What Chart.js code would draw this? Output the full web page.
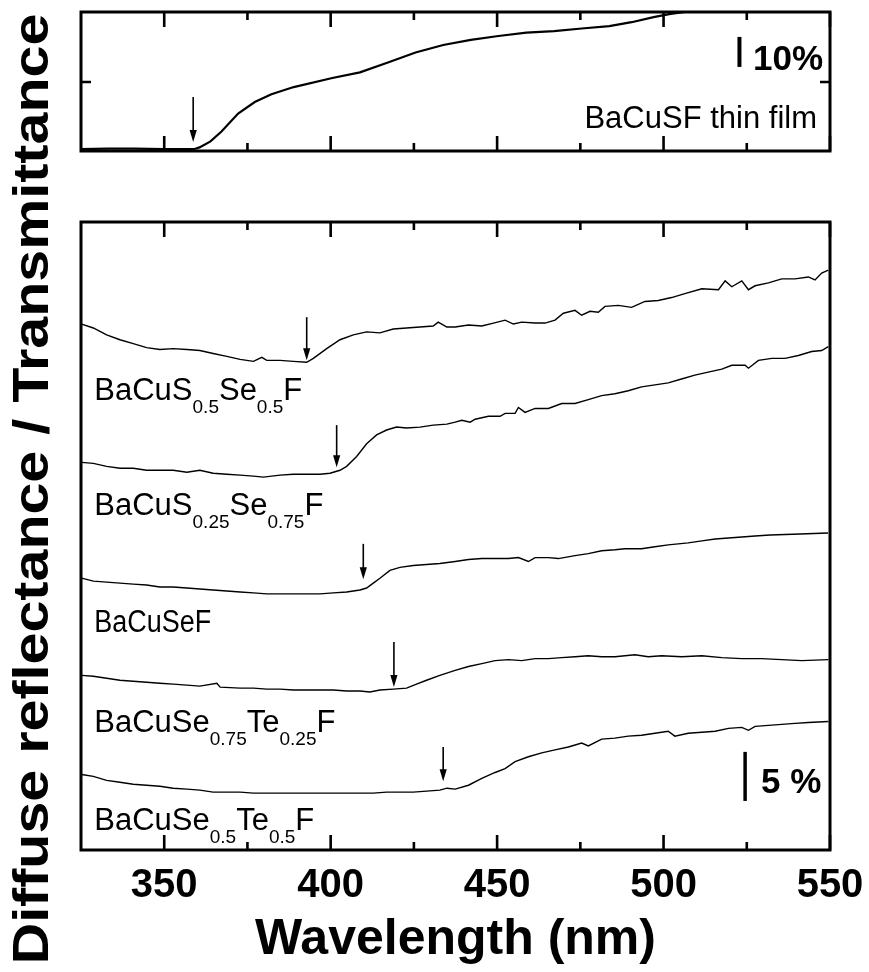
<!DOCTYPE html>
<html>
<head>
<meta charset="utf-8">
<title>BaCuQF absorption edges</title>
<script src="https://cdn.jsdelivr.net/npm/chart.js@4.4.1/dist/chart.umd.min.js"></script>
<style>
  html, body { margin: 0; padding: 0; background: #fff; }
  #wrap { position: relative; width: 869px; height: 972px; }
  #wrap canvas { position: absolute; left: 0; top: 0; }
</style>
</head>
<body>
<div id="wrap">
  <canvas id="bottomChart" width="869" height="972"></canvas>
  <canvas id="topChart" width="869" height="165"></canvas>
</div>
<script>
// data: [wavelength nm, %]
const filmT = [
  [325, 0.6], [333, 0.8], [341, 0.8], [350, 0.6], [358.9, 0.6], [360.6, 1.2], [363.9, 3.2],
  [367.2, 6.5], [372.2, 12.5], [377.2, 16.3], [382.2, 18.9], [388.9, 21.3], [400.5, 24.3],
  [408.8, 26.2], [417.2, 29.5], [425.5, 32.8], [433.8, 35.3], [442.1, 37.0], [450.4, 38.3],
  [458.8, 39.4], [467.1, 39.9], [475.4, 40.8], [483.7, 41.6], [490.4, 42.9], [497.0, 44.6],
  [502.1, 45.7], [507.0, 46.4]
];

const s1R = [
  [325.2, 53.6], [328.7, 53.2], [332.7, 52.5], [336.7, 52.0], [340.7, 51.6], [344.7, 51.2],
  [348.7, 51.0], [352.7, 51.1], [356.8, 51.0], [360.7, 50.9], [364.7, 50.6], [368.8, 50.3],
  [372.8, 50.0], [376.8, 49.8], [379.3, 50.2], [380.8, 49.9], [384.8, 49.9], [388.8, 49.8],
  [392.8, 49.7], [394.8, 50.1], [398.8, 51.1], [402.8, 52.0], [406.8, 52.5], [410.8, 52.8],
  [414.8, 52.7], [418.8, 53.1], [422.8, 53.2], [426.8, 53.3], [430.8, 53.4], [432.3, 53.8],
  [434.9, 53.3], [437.4, 53.3], [441.4, 53.5], [445.4, 53.4], [448.9, 53.7], [452.4, 54.0],
  [454.9, 53.6], [457.4, 53.8], [461.4, 53.7], [464.4, 53.7], [467.4, 54.0], [469.9, 54.7],
  [473.4, 55.0], [475.4, 54.5], [477.9, 54.9], [480.4, 54.8], [482.4, 55.4], [486.4, 55.5],
  [490.4, 55.3], [494.4, 55.9], [498.4, 56.0], [502.4, 56.3], [506.4, 56.7], [511.5, 57.2],
  [516.5, 57.1], [518.5, 58.0], [520.5, 57.4], [523.5, 58.0], [525.5, 57.1], [527.5, 57.5],
  [531.5, 57.8], [535.5, 58.2], [539.5, 58.2], [543.5, 58.4], [545.5, 58.1], [547.5, 58.8],
  [549.5, 59.1]
];

const s2R = [
  [325.2, 39.5], [328.7, 39.4], [332.7, 39.1], [336.7, 38.9], [340.7, 38.9], [344.7, 38.7],
  [348.7, 38.7], [352.7, 38.7], [356.8, 38.5], [360.7, 38.7], [364.7, 38.4], [368.8, 38.3],
  [372.8, 38.2], [376.8, 38.1], [379.8, 38.0], [384.8, 38.2], [388.8, 38.3], [392.8, 38.3],
  [396.8, 38.3], [399.8, 38.4], [402.8, 38.7], [404.8, 39.1], [407.8, 40.1], [410.8, 41.4],
  [413.8, 42.3], [416.8, 42.8], [419.8, 43.1], [422.8, 43.0], [426.8, 43.1], [430.8, 43.3],
  [434.9, 43.4], [437.4, 43.6], [439.4, 43.8], [441.9, 43.6], [443.4, 43.9], [447.4, 44.2],
  [450.9, 44.2], [452.4, 44.5], [455.4, 44.5], [456.4, 45.1], [458.4, 44.6], [461.4, 45.0],
  [465.4, 45.0], [469.4, 45.5], [473.4, 45.5], [477.4, 45.9], [481.4, 46.3], [485.4, 46.5],
  [489.4, 46.8], [493.4, 47.2], [497.4, 47.4], [501.4, 47.6], [505.4, 48.0], [509.4, 48.4],
  [513.4, 48.7], [517.5, 49.0], [520.5, 49.4], [524.5, 49.4], [525.5, 49.1], [528.5, 49.9],
  [532.5, 50.1], [536.5, 50.1], [540.5, 50.4], [544.5, 50.8], [547.5, 50.9], [549.5, 51.3]
];

const s3R = [
  [325.2, 27.7], [328.7, 27.4], [332.7, 27.3], [336.7, 27.2], [340.7, 27.1], [344.7, 27.0],
  [348.7, 26.8], [352.7, 26.8], [356.8, 26.7], [360.7, 26.6], [364.7, 26.5], [368.8, 26.4],
  [372.8, 26.3], [376.8, 26.2], [380.8, 26.1], [384.8, 26.1], [388.8, 26.1], [392.8, 26.1],
  [396.8, 26.1], [400.8, 26.2], [404.8, 26.3], [408.8, 26.5], [410.8, 26.7], [412.8, 27.2],
  [414.8, 27.7], [417.8, 28.5], [420.8, 28.8], [424.8, 29.0], [428.8, 29.1], [432.8, 29.2],
  [437.4, 29.4], [441.4, 29.6], [445.4, 29.7], [449.4, 29.7], [453.4, 29.7], [456.4, 29.8],
  [459.4, 29.4], [461.4, 29.8], [465.4, 29.8], [468.4, 29.7], [473.4, 30.0], [477.4, 30.2],
  [481.4, 30.5], [485.4, 30.6], [488.4, 30.7], [493.4, 30.7], [497.4, 30.9], [501.4, 31.1],
  [507.4, 31.3], [511.5, 31.5], [515.5, 31.7], [519.5, 31.8], [523.5, 31.9], [527.5, 32.0],
  [532.0, 32.1], [541.0, 32.2], [549.4, 32.3]
];

const s4R = [
  [325.2, 17.8], [328.7, 17.7], [332.7, 17.5], [336.7, 17.3], [340.7, 17.2], [344.7, 17.1],
  [348.7, 17.0], [352.7, 16.9], [356.8, 16.8], [360.7, 16.7], [365.8, 17.0], [366.8, 16.6],
  [372.8, 16.5], [376.8, 16.5], [380.8, 16.4], [384.8, 16.4], [388.8, 16.3], [392.8, 16.3],
  [396.8, 16.3], [400.8, 16.3], [404.8, 16.2], [408.8, 16.2], [411.8, 16.1], [414.8, 16.3],
  [418.8, 16.4], [422.8, 16.5], [425.8, 16.9], [428.8, 17.3], [432.8, 17.8], [437.4, 18.3],
  [441.4, 18.7], [445.4, 19.0], [449.4, 19.3], [453.4, 19.4], [457.4, 19.3], [461.4, 19.5],
  [465.4, 19.5], [469.4, 19.6], [473.4, 19.7], [477.4, 19.8], [481.4, 19.7], [485.4, 19.7],
  [491.4, 19.9], [495.4, 19.7], [499.4, 19.8], [505.5, 19.7], [511.5, 19.8], [517.5, 19.6],
  [523.5, 19.5], [529.5, 19.5], [535.5, 19.4], [541.5, 19.3], [549.5, 19.4]
];

const s5R = [
  [325.2, 7.7], [328.7, 7.5], [332.7, 7.1], [336.7, 6.9], [340.7, 6.7], [344.7, 6.6],
  [348.7, 6.5], [352.7, 6.3], [356.8, 6.2], [360.7, 6.1], [364.7, 5.9], [368.8, 5.9],
  [372.8, 5.9], [376.8, 5.8], [384.8, 5.8], [392.8, 5.8], [400.8, 5.8], [404.8, 5.8],
  [408.8, 5.8], [412.8, 5.8], [416.8, 5.9], [420.8, 5.9], [424.8, 5.9], [428.8, 6.0],
  [432.8, 6.1], [434.9, 6.3], [437.4, 6.2], [441.4, 6.6], [445.4, 7.3], [449.4, 7.9],
  [452.4, 8.3], [455.4, 9.0], [459.4, 9.5], [463.4, 9.9], [467.4, 10.2], [471.4, 10.5],
  [475.4, 10.9], [477.4, 10.6], [481.4, 11.3], [485.4, 11.4], [489.4, 11.6], [493.4, 11.7],
  [497.4, 11.9], [501.4, 12.1], [503.4, 11.6], [507.4, 11.9], [511.5, 12.0], [515.5, 12.1],
  [519.5, 12.4], [523.5, 12.5], [525.5, 12.2], [527.5, 12.6], [531.5, 12.7], [535.5, 12.8],
  [539.5, 12.9], [543.5, 13.0], [549.5, 13.1]
];

const sampleNames = [
  "BaCuS_{0.5}Se_{0.5}F",
  "BaCuS_{0.25}Se_{0.75}F",
  "BaCuSeF",
  "BaCuSe_{0.75}Te_{0.25}F",
  "BaCuSe_{0.5}Te_{0.5}F"
];

// band edge arrows: wavelength, tail and head values
const edgeWl = [392.8, 401.8, 409.8, 419.0, 433.8];
const edgeTail = [54.3, 43.3, 31.2, 21.2, 10.5];
const edgeHead = [49.9, 39.0, 27.6, 16.6, 7.0];
const filmEdge = [358.7, 18, 3];

const xTicks = [350, 400, 450, 500, 550];
const xMinor = [375, 425, 475, 525];
const topYTicks = [23];

const FONT = "'Liberation Sans', Arial, Helvetica, sans-serif";

function drawFrame(ctx, area, xs, ys, yTicks) {
  const { left, right, top, bottom } = area;
  ctx.save();
  ctx.strokeStyle = "#000";
  ctx.lineWidth = 2.6;
  ctx.beginPath();
  xTicks.forEach(v => {
    const p = xs.getPixelForValue(v);
    ctx.moveTo(p, top); ctx.lineTo(p, top + 15);
    ctx.moveTo(p, bottom); ctx.lineTo(p, bottom - 15);
  });
  xMinor.forEach(v => {
    const p = xs.getPixelForValue(v);
    ctx.moveTo(p, top); ctx.lineTo(p, top + 8);
    ctx.moveTo(p, bottom); ctx.lineTo(p, bottom - 8);
  });
  yTicks.forEach(v => {
    const p = ys.getPixelForValue(v);
    ctx.moveTo(left, p); ctx.lineTo(left + 10, p);
    ctx.moveTo(right, p); ctx.lineTo(right - 10, p);
  });
  ctx.stroke();
  ctx.lineWidth = 3;
  ctx.strokeRect(left, top, right - left, bottom - top);
  ctx.restore();
}

function drawArrow(ctx, px, yTail, yHead) {
  ctx.save();
  ctx.strokeStyle = "#000";
  ctx.fillStyle = "#000";
  ctx.lineWidth = 1.6;
  ctx.beginPath();
  ctx.moveTo(px, yTail);
  ctx.lineTo(px, yHead - 10);
  ctx.stroke();
  ctx.beginPath();
  ctx.moveTo(px - 3.6, yHead - 12);
  ctx.lineTo(px + 3.6, yHead - 12);
  ctx.lineTo(px, yHead);
  ctx.closePath();
  ctx.fill();
  ctx.restore();
}

// "X_{sub}" markup -> text with subscripts
function drawFormula(ctx, markup, px, py, squeeze) {
  const parts = markup.split(/_\{([^}]*)\}/);
  ctx.save();
  ctx.translate(px, py);
  ctx.scale(squeeze, 1);
  ctx.fillStyle = "#000";
  ctx.textAlign = "left";
  ctx.textBaseline = "alphabetic";
  let cx = 0;
  parts.forEach((t, k) => {
    const sub = k % 2 === 1;
    ctx.font = sub ? `19px ${FONT}` : `31px ${FONT}`;
    ctx.fillText(t, cx, sub ? 13 : 0);
    cx += ctx.measureText(t).width;
  });
  ctx.restore();
}

function drawScaleBar(ctx, xs, ys, wl, from, to, width, text, textWl, textBase) {
  const px = xs.getPixelForValue(wl);
  ctx.save();
  ctx.strokeStyle = "#000";
  ctx.lineWidth = width;
  ctx.beginPath();
  ctx.moveTo(px, ys.getPixelForValue(from));
  ctx.lineTo(px, ys.getPixelForValue(to));
  ctx.stroke();
  ctx.fillStyle = "#000";
  ctx.font = `bold 35px ${FONT}`;
  ctx.textAlign = "left";
  ctx.textBaseline = "alphabetic";
  ctx.fillText(text, xs.getPixelForValue(textWl), ys.getPixelForValue(textBase));
  ctx.restore();
}

const bottomNotes = {
  id: "bottomNotes",
  afterDatasetsDraw(chart) {
    const { ctx, chartArea, scales: { x, y } } = chart;
    drawFrame(ctx, chartArea, x, y, []);
    edgeWl.forEach((wl, i) => {
      drawArrow(ctx, x.getPixelForValue(wl), y.getPixelForValue(edgeTail[i]), y.getPixelForValue(edgeHead[i]));
    });
    const labelBase = [45.9, 34.1, 22.2, 12.05, 2.04];
    sampleNames.forEach((name, i) => {
      drawFormula(ctx, name, x.getPixelForValue(329), y.getPixelForValue(labelBase[i]), i === 2 ? 0.87 : 1);
    });
    drawScaleBar(ctx, x, y, 524.5, 5, 10, 3.5, "5 %", 529.3, 5.8);
  },
  afterDraw(chart) {
    const ctx = chart.ctx;
    ctx.save();
    ctx.translate(48, 489);
    ctx.rotate(-Math.PI / 2);
    ctx.scale(1.148, 1);
    ctx.fillStyle = "#000";
    ctx.font = `bold 50px ${FONT}`;
    ctx.textAlign = "center";
    ctx.textBaseline = "alphabetic";
    ctx.fillText("Diffuse reflectance / Transmittance", 0, 0);
    ctx.restore();
  }
};

const topNotes = {
  id: "topNotes",
  afterDatasetsDraw(chart) {
    const { ctx, chartArea, scales: { x, y } } = chart;
    drawFrame(ctx, chartArea, x, y, topYTicks);
    drawArrow(ctx, x.getPixelForValue(filmEdge[0]), y.getPixelForValue(filmEdge[1]), y.getPixelForValue(filmEdge[2]));
    drawScaleBar(ctx, x, y, 522.8, 28, 38, 4, "10%", 526.9, 27);
    ctx.save();
    ctx.fillStyle = "#000";
    ctx.font = `31px ${FONT}`;
    ctx.textAlign = "right";
    ctx.fillText("BaCuSF thin film", x.getPixelForValue(546.1), y.getPixelForValue(7.6));
    ctx.restore();
  }
};

const toPoints = arr => arr.map(([x, y]) => ({ x, y }));

new Chart(document.getElementById("bottomChart"), {
  type: "line",
  data: {
    datasets: [s1R, s2R, s3R, s4R, s5R].map((s, i) => ({
      label: sampleNames[i],
      data: toPoints(s),
      borderColor: "#000",
      borderWidth: 1.4,
      pointRadius: 0,
      tension: 0
    }))
  },
  options: {
    responsive: false,
    animation: false,
    layout: { padding: { left: 81, right: 39, top: 222, bottom: 2 } },
    plugins: { legend: { display: false }, tooltip: { enabled: false } },
    scales: {
      x: {
        type: "linear",
        min: 325,
        max: 550,
        afterBuildTicks: scale => { scale.ticks = xTicks.map(v => ({ value: v })); },
        afterFit: scale => { scale.paddingLeft = 0; scale.paddingRight = 0; },
        grid: { display: false, drawTicks: false },
        border: { display: false },
        ticks: {
          padding: 12,
          color: "#000",
          autoSkip: false,
          maxRotation: 0,
          font: { family: FONT, size: 40, weight: "bold" }
        },
        title: {
          display: true,
          text: "Wavelength (nm)",
          color: "#000",
          font: { family: FONT, size: 50, weight: "bold" },
          padding: { top: -12, bottom: 0 }
        }
      },
      y: { display: false, min: 0, max: 64 }
    }
  },
  plugins: [bottomNotes]
});

new Chart(document.getElementById("topChart"), {
  type: "line",
  data: {
    datasets: [{
      label: "BaCuSF thin film",
      data: toPoints(filmT),
      borderColor: "#000",
      borderWidth: 2.2,
      pointRadius: 0,
      tension: 0
    }]
  },
  options: {
    responsive: false,
    animation: false,
    layout: { padding: { left: 81, right: 39, top: 12, bottom: 14 } },
    plugins: { legend: { display: false }, tooltip: { enabled: false } },
    scales: {
      x: { type: "linear", display: false, min: 325, max: 550 },
      y: { display: false, min: 0, max: 46.3 }
    }
  },
  plugins: [topNotes]
});
</script>
</body>
</html>
